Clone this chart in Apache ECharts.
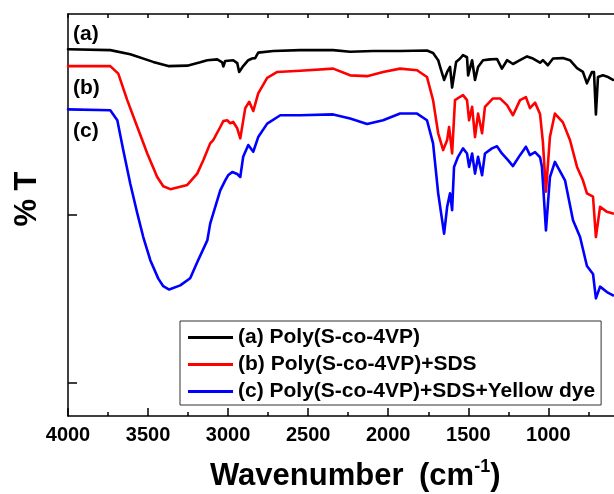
<!DOCTYPE html>
<html><head><meta charset="utf-8">
<script src="https://cdn.jsdelivr.net/npm/echarts@6/dist/echarts.min.js"></script>
<style>html,body{margin:0;padding:0;background:#fff}#c{width:614px;height:494px}</style>
</head><body><div id="c"></div>
<script>
// Series names (legend)
const seriesNames = ['(a) Poly(S-co-4VP)', '(b) Poly(S-co-4VP)+SDS', '(c) Poly(S-co-4VP)+SDS+Yellow dye'];
const curveTags = ['(a)', '(b)', '(c)'];
const seriesColors = ['#000000', '#ff0000', '#0000ff'];

// x tick labels (wavenumber, cm-1)
const majorTicks = [4000, 3500, 3000, 2500, 2000, 1500, 1000];
const minorTicks = [3750, 3250, 2750, 2250, 1750, 1250, 750];
const yTicks = [10, 50];

// (a) Poly(S-co-4VP)
const waveA = [4000,3736,3611,3468,3374,3255,3174,3130,3068,3037,3030,3018,3006,2968,2943,2931,2906,2874,2850,2831,2812,2718,2550,2344,2238,2094,1926,1758,1720,1688,1676,1651,1632,1614,1601,1576,1551,1533,1508,1501,1476,1458,1439,1408,1364,1321,1290,1258,1221,1177,1133,1096,1052,1034,1003,971,909,865,821,784,759,728,715,703,690,659,627,596];
const transA = [89.5,89.3,88.3,86.5,85.5,85.6,86.4,86.9,87.1,86.4,85.4,86.7,87.1,86.9,86.2,84.1,85.5,86.9,87.3,87.4,88.7,89.1,89.3,89.3,88.9,89.1,89.1,89.2,88.6,86.9,85.3,82.2,84.1,85.3,80.4,86.5,87.3,88.1,87.6,83.3,86.9,82.2,85.3,86.9,87.1,87.2,84.9,86.9,86.0,86.9,87.8,87.3,86.3,86.9,85.7,87.3,87.4,86.9,85.0,84.1,81.4,84.1,84.1,74.0,82.9,83.3,82.9,82.2];

// (b) Poly(S-co-4VP)+SDS
const waveB = [4000,3736,3686,3630,3567,3505,3443,3405,3361,3255,3193,3155,3112,3093,3049,3030,3006,2987,2968,2943,2924,2893,2868,2843,2812,2756,2693,2550,2344,2238,2132,2032,1926,1820,1758,1720,1688,1657,1632,1620,1601,1583,1551,1533,1508,1495,1476,1458,1439,1414,1396,1346,1302,1258,1221,1177,1140,1115,1083,1052,1034,1015,990,959,909,865,821,784,759,721,703,677,634,596];
const transB = [85.5,85.5,83.7,77.4,71.0,64.7,59.1,56.9,56.2,57.2,59.9,63.1,67.1,67.9,71.0,72.4,72.6,71.9,72.2,70.7,68.3,75.5,77.0,74.8,79.0,82.7,84.1,84.4,84.9,83.3,83.1,84.1,84.9,84.5,82.9,77.4,69.5,65.5,67.9,71.0,64.7,77.4,78.2,78.6,77.4,72.6,75.8,68.6,74.2,69.5,75.8,77.8,77.8,76.2,73.8,77.4,78.1,75.5,76.8,74.1,67.4,55.6,68.7,74.2,72.1,67.9,61.5,58.3,55.2,54.4,44.8,52.0,50.8,50.4];

// (c) Poly(S-co-4VP)+SDS+Yellow dye
const waveC = [4000,3736,3692,3655,3611,3567,3530,3486,3436,3405,3368,3299,3237,3193,3130,3112,3049,3018,3000,2974,2943,2924,2906,2874,2843,2812,2756,2674,2550,2344,2238,2132,2032,1926,1820,1758,1720,1688,1651,1632,1614,1601,1589,1564,1533,1508,1495,1476,1458,1439,1414,1396,1352,1321,1290,1252,1221,1177,1140,1115,1083,1052,1040,1015,990,959,896,846,802,759,721,703,677,634,596];
const transC = [75.2,75.0,72.6,65.5,57.5,50.4,44.8,39.3,34.9,33.1,32.3,33.3,35.0,38.8,44.0,48.0,55.9,58.3,59.5,60.3,59.8,59.1,63.9,66.7,65.1,68.6,71.8,73.8,73.8,74.0,73.0,71.7,72.6,74.2,74.2,72.6,67.1,55.2,45.6,52.0,55.2,51.2,61.5,63.9,65.9,64.7,61.5,64.7,59.9,63.9,59.5,64.7,65.9,66.4,64.7,63.1,61.7,64.3,66.3,64.3,65.0,63.8,61.5,46.4,59.1,62.7,58.3,48.8,44.8,37.9,36.0,30.2,33.0,31.7,30.9];

const FONT = '"Liberation Sans", Arial, sans-serif';
const zip = (xs, ys) => xs.map((x, i) => [x, ys[i]]);
const waves = [waveA, waveB, waveC];
const trans = [transA, transB, transC];

const XMIN = 590, XMAX = 4000;
const chart = echarts.init(document.getElementById('c'), null, {renderer: 'canvas'});
chart.setOption({
  animation: false,
  backgroundColor: '#fff',
  grid: {left: 68, right: 0, top: 14, bottom: 78},
  xAxis: [
    {type: 'value', position: 'bottom', min: XMIN, max: XMAX, inverse: true,
     axisLine: {show: true, lineStyle: {color: '#000', width: 1.5}},
     axisTick: {show: true, inside: true, length: 8, customValues: majorTicks, lineStyle: {color: '#000', width: 1.5}},
     axisLabel: {show: true, customValues: majorTicks, margin: 9, fontSize: 20, fontWeight: 'bold', color: '#000', fontFamily: FONT,
                 formatter: v => String(v)},
     splitLine: {show: false}},
    {type: 'value', position: 'bottom', min: XMIN, max: XMAX, inverse: true,
     axisLine: {show: false},
     axisTick: {show: true, inside: true, length: 4, customValues: minorTicks, lineStyle: {color: '#000', width: 1.5}},
     axisLabel: {show: false}, splitLine: {show: false}},
    {type: 'value', position: 'top', min: XMIN, max: XMAX, inverse: true,
     axisLine: {show: true, lineStyle: {color: '#000', width: 1.5}},
     axisTick: {show: true, inside: true, length: 4, customValues: majorTicks.concat(minorTicks), lineStyle: {color: '#000', width: 1.5}},
     axisLabel: {show: false}, splitLine: {show: false}}
  ],
  yAxis: {type: 'value', min: 2.2, max: 97.9,
    axisLine: {show: true, lineStyle: {color: '#000', width: 1.5}},
    axisTick: {show: true, inside: true, length: 9, customValues: yTicks, lineStyle: {color: '#000', width: 1.5}},
    axisLabel: {show: false}, splitLine: {show: false}},
  legend: {
    orient: 'vertical', left: 180, top: 321,
    itemWidth: 45, itemHeight: 3, icon: 'rect', itemGap: 6,
    padding: [6, 6, 3, 8],
    borderColor: '#333', borderWidth: 1, backgroundColor: '#fff',
    textStyle: {fontSize: 21, fontWeight: 'bold', color: '#000', fontFamily: FONT, lineHeight: 20},
    data: seriesNames
  },
  series: seriesNames.map((n, i) => ({
    name: n, type: 'line', xAxisIndex: 0, showSymbol: false, symbol: 'none',
    color: seriesColors[i],
    lineStyle: {color: seriesColors[i], width: 2.6, join: 'round', cap: 'round'},
    data: zip(waves[i], trans[i])
  })),
  graphic: [
    {type: 'text', x: 73, y: 34, style: {text: curveTags[0], font: 'bold 21px ' + FONT, fill: '#000', verticalAlign: 'middle'}},
    {type: 'text', x: 73, y: 88, style: {text: curveTags[1], font: 'bold 21px ' + FONT, fill: '#000', verticalAlign: 'middle'}},
    {type: 'text', x: 73, y: 131, style: {text: curveTags[2], font: 'bold 21px ' + FONT, fill: '#000', verticalAlign: 'middle'}},
    {type: 'text', x: 27, y: 199, rotation: Math.PI / 2,
     style: {text: '% T', font: 'bold 31px ' + FONT, fill: '#000', align: 'center', verticalAlign: 'middle'}},
    {type: 'text', x: 210, y: 476,
     style: {text: 'Wavenumber\u2002(cm{s|-1})', font: 'bold 31px ' + FONT, fill: '#000', verticalAlign: 'middle',
       rich: {s: {font: 'bold 18px ' + FONT, fill: '#000', verticalAlign: 'top', lineHeight: 36}}}}
  ]
});
</script>
</body></html>
